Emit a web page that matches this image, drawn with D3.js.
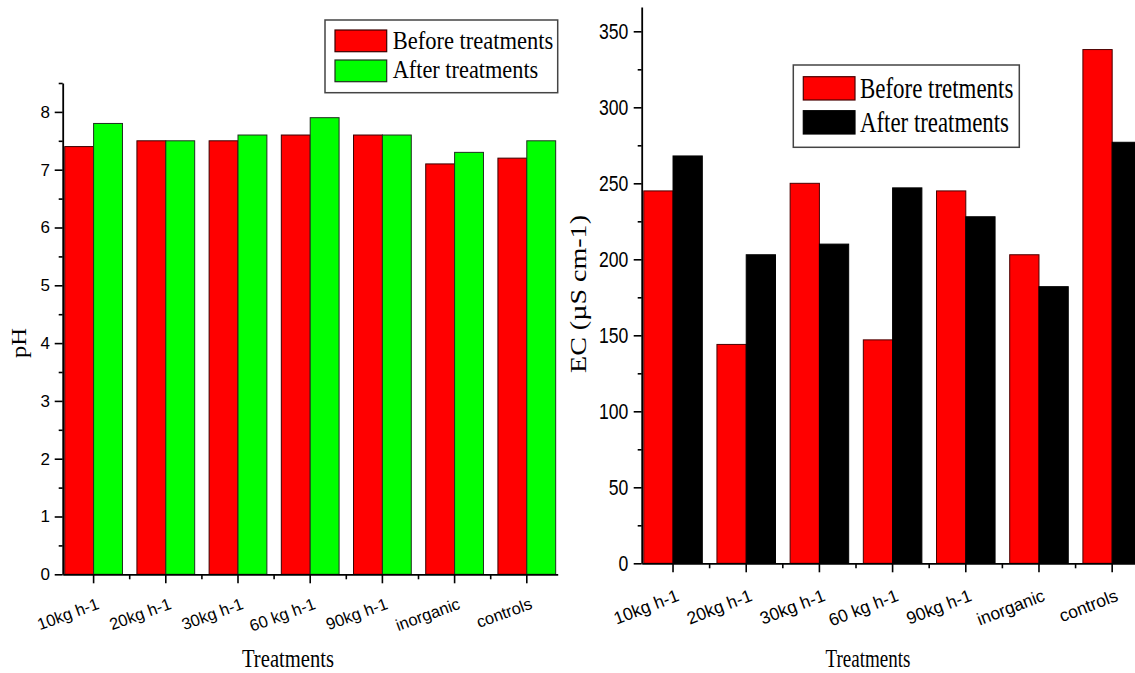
<!DOCTYPE html>
<html lang="en">
<head>
<meta charset="utf-8">
<script src="https://d3js.org/d3.v7.min.js"></script>
<style>
  body { margin: 0; background: #fff; }
</style>
</head>
<body>
<div id="my_dataviz"></div>
<script>

// categories shared by both panels
const treatments = ["10kg h-1", "20kg h-1", "30kg h-1", "60 kg h-1", "90kg h-1", "inorganic", "controls"];

// left panel: pH
const phBefore = [7.4, 7.5, 7.5, 7.6, 7.6, 7.1, 7.2];
const phAfter  = [7.8, 7.5, 7.6, 7.9, 7.6, 7.3, 7.5];
const phTicks  = [0, 1, 2, 3, 4, 5, 6, 7, 8];
const phMinor  = [0.5, 1.5, 2.5, 3.5, 4.5, 5.5, 6.5, 7.5, 8.5];
const phLegend = ["Before treatments", "After treatments"];

// right panel: EC
const ecBefore = [245, 144, 250, 147, 245, 203, 338];
const ecAfter  = [268, 203, 210, 247, 228, 182, 277];
const ecTicks  = [0, 50, 100, 150, 200, 250, 300, 350];
const ecMinor  = [25, 75, 125, 175, 225, 275, 325];
const ecLegend = ["Before tretments", "After treatments"];

const sans = "'Liberation Sans', Arial, sans-serif";
const serif = "'Liberation Serif', 'Times New Roman', serif";

const svg = d3.select("#my_dataviz")
  .append("svg")
    .attr("width", 1135)
    .attr("height", 673);

function drawPanel(p) {
  const g = svg.append("g");

  const x = d3.scaleBand()
    .domain(treatments)
    .range([p.left, p.right])
    .paddingInner(0.2)
    .paddingOuter(0.028);
  const xSub = d3.scaleBand()
    .domain([0, 1])
    .range([0, x.bandwidth()]);
  const y = d3.scaleLinear()
    .domain([0, p.yMax])
    .range([p.bottom, p.top]);

  // bars
  p.series.forEach(function(s, i) {
    g.append("g").selectAll("rect")
      .data(s.values)
      .enter()
      .append("rect")
        .attr("x", function(d, j) { return x(treatments[j]) + xSub(i); })
        .attr("y", function(d) { return y(d); })
        .attr("width", xSub.bandwidth())
        .attr("height", function(d) { return y(0) - y(d); })
        .attr("fill", s.color)
        .attr("stroke", s.stroke)
        .attr("stroke-width", 1);
  });

  // y axis, major + minor ticks
  const yAxis = g.append("g")
    .attr("transform", `translate(${p.left},0)`)
    .call(d3.axisLeft(y).tickValues(p.yTicks).tickSize(8).tickSizeOuter(0));
  yAxis.select(".domain").attr("stroke-width", 1.8);
  yAxis.selectAll(".tick line").attr("stroke-width", 1.6);
  yAxis.selectAll("text")
    .style("font-family", sans)
    .style("font-size", p.tickFont + "px")
    .attr("x", p.yLabelX)
    .attr("transform", `scale(${p.squeeze},1)`);

  g.append("g")
    .attr("transform", `translate(${p.left},0)`)
    .call(d3.axisLeft(y).tickValues(p.yMinor).tickSize(4).tickFormat(""))
    .call(function(a) { a.select(".domain").remove(); })
    .selectAll("line").attr("stroke-width", 1.6);

  // x axis
  const xAxis = g.append("g")
    .attr("transform", `translate(0,${p.bottom})`)
    .call(d3.axisBottom(x).tickSize(9).tickSizeOuter(0).tickFormat(""));
  xAxis.select(".domain").attr("stroke-width", 1.8);
  xAxis.selectAll(".tick line").attr("stroke-width", 1.6);

  // minor ticks between groups
  g.append("g").selectAll("line")
    .data(treatments.slice(1))
    .enter()
    .append("line")
      .attr("x1", function(d) { return x(d) - x.step() * 0.1; })
      .attr("x2", function(d) { return x(d) - x.step() * 0.1; })
      .attr("y1", p.bottom)
      .attr("y2", p.bottom + 5)
      .attr("stroke", "#000")
      .attr("stroke-width", 1.6);

  // rotated category labels
  g.append("g").selectAll("text")
    .data(treatments)
    .enter()
    .append("text")
      .attr("transform", function(d) {
        return `translate(${x(d) + x.bandwidth() / 2 + p.lx},${p.bottom + p.ly}) rotate(${p.rot})`;
      })
      .attr("text-anchor", "end")
      .style("font-family", sans)
      .style("font-size", p.xFont + "px")
      .text(function(d) { return d; });

  // axis titles
  g.append("text")
    .attr("x", p.xTitle.x)
    .attr("y", p.xTitle.y)
    .attr("text-anchor", "middle")
    .attr("textLength", p.xTitle.w)
    .attr("lengthAdjust", "spacingAndGlyphs")
    .style("font-family", serif)
    .style("font-size", p.xTitle.size + "px")
    .text("Treatments");

  g.append("text")
    .attr("transform", `translate(${p.yTitle.x},${p.yTitle.y}) rotate(-90)`)
    .attr("text-anchor", "middle")
    .attr("textLength", p.yTitle.w)
    .attr("lengthAdjust", "spacingAndGlyphs")
    .style("font-family", serif)
    .style("font-size", p.yTitle.size + "px")
    .text(p.yTitle.text);

  // legend
  const L = p.legend;
  g.append("rect")
    .attr("x", L.x).attr("y", L.y)
    .attr("width", L.w).attr("height", L.h)
    .attr("fill", "#fff")
    .attr("stroke", "#444")
    .attr("stroke-width", 1.5);
  p.series.forEach(function(s, i) {
    g.append("rect")
      .attr("x", L.x + 10).attr("y", L.y + L.sy[i])
      .attr("width", 51.7).attr("height", L.sh)
      .attr("fill", s.color)
      .attr("stroke", s.stroke)
      .attr("stroke-width", 1.2);
    g.append("text")
      .attr("x", L.x + L.tx).attr("y", L.y + L.ty[i])
      .attr("textLength", L.tw[i])
      .attr("lengthAdjust", "spacingAndGlyphs")
      .style("font-family", serif)
      .style("font-size", L.size + "px")
      .text(s.name);
  });
}

drawPanel({
  left: 62.7, right: 557.7, top: 83, bottom: 574.3, yMax: 8.5,
  yTicks: phTicks, yMinor: phMinor,
  tickFont: 17, yLabelX: -12.7, squeeze: 1,
  xFont: 16.5, lx: 6.5, ly: 34, rot: -20,
  series: [
    {name: phLegend[0], values: phBefore, color: "#ff0000", stroke: "#3a0000"},
    {name: phLegend[1], values: phAfter,  color: "#00ff00", stroke: "#1f2f1f"}
  ],
  xTitle: {x: 288, y: 667, w: 92, size: 25},
  yTitle: {x: 26, y: 343, w: 30, size: 22, text: "pH"},
  legend: {x: 325, y: 20, w: 232.7, h: 72.7, sy: [10, 40], sh: 21.7,
           tx: 67.7, ty: [29.3, 58.3], tw: [160.7, 145.6], size: 26}
});

drawPanel({
  left: 641.7, right: 1143.5, top: 7, bottom: 563.3, yMax: 366,
  yTicks: ecTicks, yMinor: ecMinor,
  tickFont: 22, yLabelX: -16.75, squeeze: 0.8,
  xFont: 17.5, lx: 7, ly: 37, rot: -21,
  series: [
    {name: ecLegend[0], values: ecBefore, color: "#ff0000", stroke: "#4a0000"},
    {name: ecLegend[1], values: ecAfter,  color: "#000000", stroke: "#000000"}
  ],
  xTitle: {x: 868, y: 667, w: 85, size: 26},
  yTitle: {x: 586, y: 294, w: 158, size: 23, text: "EC (\u00b5S cm-1)"},
  legend: {x: 793.3, y: 65, w: 226, h: 82.3, sy: [11.7, 45.7], sh: 23.3,
           tx: 66.7, ty: [33.3, 67.3], tw: [153.3, 149], size: 30}
});

</script>
</body>
</html>
